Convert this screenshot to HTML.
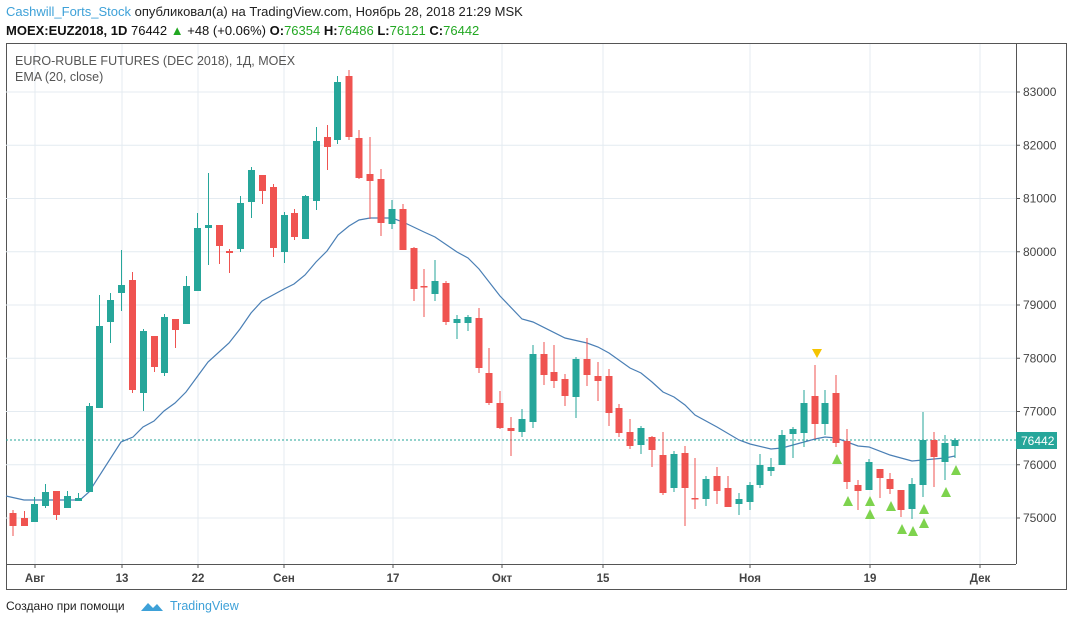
<!DOCTYPE html>
<html><head><meta charset="utf-8"><style>
body{margin:0;background:#fff;width:1073px;height:626px;overflow:hidden;font-family:"Liberation Sans",sans-serif}
svg text{font-family:"Liberation Sans",sans-serif}
</style></head><body>
<svg id="s" width="1073" height="626" xmlns="http://www.w3.org/2000/svg">
<text x="6" y="16" font-size="13" fill="#3ea1d8">Cashwill_Forts_Stock <tspan fill="#222">опубликовал(а) на TradingView.com, Ноябрь 28, 2018 21:29 MSK</tspan></text>
<text x="6" y="35" font-size="13" fill="#111"><tspan font-weight="bold">MOEX:EUZ2018, 1D</tspan>  76442 <tspan fill="#22a822">▲</tspan> +48 (+0.06%) <tspan font-weight="bold">O:</tspan><tspan fill="#22a822">76354</tspan> <tspan font-weight="bold">H:</tspan><tspan fill="#22a822">76486</tspan> <tspan font-weight="bold">L:</tspan><tspan fill="#22a822">76121</tspan> <tspan font-weight="bold">C:</tspan><tspan fill="#22a822">76442</tspan></text>
<rect x="6.5" y="43.5" width="1060" height="546" fill="none" stroke="#555" stroke-width="1"/>
<g id="grid"></g>
<line x1="6" y1="440" x2="1016" y2="440" stroke="#26a69a" stroke-dasharray="2,2"/>
<polyline id="ema" fill="none" stroke="#4a7fb5" stroke-width="1.2"/>
<g id="c"></g>
<line x1="1016.5" y1="44" x2="1016.5" y2="564" stroke="#555"/>
<line x1="6" y1="564.5" x2="1016" y2="564.5" stroke="#555"/>
<text x="15" y="65" font-size="12.5" fill="#555">EURO-RUBLE FUTURES (DEC 2018), 1Д, MOEX</text>
<text x="15" y="81" font-size="12.5" fill="#555">EMA (20, close)</text>
<rect x="1016" y="432" width="41" height="17" fill="#26a69a"/>
<text x="1021" y="445" font-size="12" fill="#fff">76442</text>
<text x="6" y="610" font-size="12" fill="#222">Создано при помощи</text>
<path d="M141 611 l7-8 l5 5 l4-4 l6 7z" fill="#3ea1d8"/>
<text x="170" y="610" font-size="12.5" fill="#3ea1d8">TradingView</text>
</svg>
<script>
var ns="http://www.w3.org/2000/svg",g=document.getElementById('grid'),c=document.getElementById('c');
function el(p,t,a){var e=document.createElementNS(ns,t);for(var k in a)e.setAttribute(k,a[k]);p.appendChild(e);return e;}
for(var k=0;k<=8;k++){var y=518-53.25*k;el(g,'line',{x1:6,y1:y,x2:1016,y2:y,stroke:'#e4ebf1'});
el(g,'line',{x1:1016,y1:y,x2:1020,y2:y,stroke:'#555'});
var t=el(g,'text',{x:1023,y:y+4,'font-size':12,fill:'#444'});t.textContent=(75000+k*1000);}
var xs=[[35,'Авг'],[122,'13'],[198,'22'],[284,'Сен'],[393,'17'],[502,'Окт'],[603,'15'],[750,'Ноя'],[870,'19'],[980,'Дек']];
xs.forEach(function(a){el(g,'line',{x1:a[0],y1:44,x2:a[0],y2:564,stroke:'#e4ebf1'});el(g,'line',{x1:a[0],y1:564,x2:a[0],y2:568,stroke:'#555'});
var t=el(g,'text',{x:a[0],y:582,'font-size':11.5,fill:'#444','text-anchor':'middle','font-weight':'bold'});t.textContent=a[1];});
// x, open, close, high, low (pixel y)
var d=[[13,513,526,510,536],[24.5,518,526,511,526],[34.5,522,504,497,522],[45.5,506,492,484,508],[56.5,491,515,491,520],[67.5,508,496,491,508],[78.5,501,498,493,501],[89.5,492,406,403,492],[99.5,408,326,295,408],[110.5,322,300,293,343],[121.5,293,285,250,311],[132.5,280,390,272,393],[143.5,393,331,329,411],[154.5,336,367,336,372],[164.5,373,317,314,376],[175.5,319,330,319,348],[186.5,324,286,276,324],[197.5,291,228,213,291],[208.5,228,225,173,265],[219.5,225,246,225,264],[229.5,251,253,249,273],[240.5,249,203,196,252],[251.5,202,170,167,218],[262.5,175,191,175,204],[273.5,187,248,184,257],[284.5,252,215,212,263],[294.5,213,237,209,240],[305.5,239,196,195,239],[316.5,201,141,127,210],[327.5,137,147,125,170],[337.5,140,82,76,144],[349,76,137,70,140],[359,138,178,130,179],[370,174,181,137,219],[381,179,223,169,236],[392,224,209,200,229],[403,209,250,204,250],[414,248,289,247,301],[424,286,287,269,317],[435,294,281,260,301],[446,283,322,281,325],[457,323,319,315,339],[468,323,317,315,331],[479,318,368,308,373],[489,373,403,348,405],[500,403,428,391,429],[511,428,431,417,456],[522,432,419,409,437],[533,422,354,345,428],[544,354,375,342,385],[554,372,381,345,388],[565,379,396,374,406],[576,397,359,357,418],[587,359,375,338,386],[598,376,381,362,401],[609,376,413,369,426],[619,408,433,404,437],[630,432,446,419,449],[641,445,428,426,454],[652,437,450,436,467],[663,455,493,432,495],[674,488,454,451,492],[685,453,488,446,526],[695,498,499.5,458,509],[706,499,479,476,506],[717,476,491,467,504],[728,488,507,476,507],[739,504,499,493,515],[750,502,485,482,510],[760,485,465,454,488],[771,471,467,458,476],[782,465,435,430,465],[793,434,429,427,458],[804,433,403,390,447],[815,396,424,365,439],[825,424,403,390,435],[836,393,443,375,447],[847,441,482,429,489],[858,485,491,480,510],[869,490,462,459,490],[880,469,478,469,498],[890,479,489,473,494],[901,490,510,490,517],[912,509,484,478,519],[923,485,440,412,497],[934,440,457,432,487],[945,462,443,435,480],[955,446,440,438,458]];
d.forEach(function(a){var up=a[2]<a[1],col=up?'#26a69a':'#ef5350';
el(c,'line',{x1:a[0],y1:a[3],x2:a[0],y2:a[4],stroke:col,'stroke-width':1});
var t=Math.min(a[1],a[2]),h=Math.max(Math.abs(a[1]-a[2]),1.5);el(c,'rect',{x:a[0]-3.5,y:t,width:7,height:h,fill:col});});
var e=[[6,496],[24,500],[80,500],[89,492],[121,442],[133,437],[143,427],[154,421],[164,411],[175,403],[186,392],[197,377],[208,362],[229,343],[240,329],[251,313],[262,301],[284,289],[294,284],[305,275],[316,262],[327,251],[338,235],[349,226],[359,220],[370,218],[392,218],[403,222],[424,232],[435,237],[457,252],[468,258],[479,269],[500,296],[522,319],[533,322],[565,338],[587,343],[598,347],[609,353],[630,368],[641,373],[652,382],[663,392],[674,397],[685,405],[695,415],[717,427],[739,440],[750,444],[771,449],[782,448],[793,445],[815,439],[825,437],[836,438],[858,446],[869,447],[890,455],[912,461],[923,460],[945,458],[955,456]];
document.getElementById('ema').setAttribute('points',e.map(function(p){return p.join(',')}).join(' '));
var tr=[[837,459],[848,501],[870,501],[870,514],[891,506],[902,529],[913,531],[924,509],[924,523],[946,492],[956,470]];
tr.forEach(function(p){el(c,'polygon',{points:(p[0]-5)+','+(p[1]+5)+' '+(p[0]+5)+','+(p[1]+5)+' '+p[0]+','+(p[1]-5),fill:'#7ed34e'});});
el(c,'polygon',{points:'812,349 822,349 817,358',fill:'#f5c400'});
</script>
</body></html>
